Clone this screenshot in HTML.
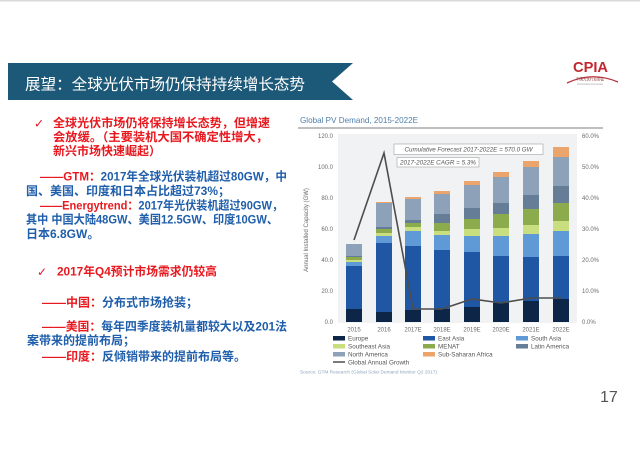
<!DOCTYPE html>
<html>
<head>
<meta charset="utf-8">
<style>
  html,body{margin:0;padding:0;background:#fff;}
  body{width:640px;height:453px;overflow:hidden;}
  svg{display:block;}
  .cjk{font-family:"Liberation Sans","Noto Sans CJK SC","DejaVu Sans",sans-serif;}
  .ax{font-family:"Liberation Sans",sans-serif;font-size:6px;fill:#6a6a6a;}
  .lg{font-family:"Liberation Sans",sans-serif;font-size:6.3px;fill:#555;}
</style>
</head>
<body>
<svg width="640" height="453" viewBox="0 0 640 453" xmlns="http://www.w3.org/2000/svg">
  <rect x="0" y="0" width="640" height="453" fill="#ffffff"/>
  <rect x="0" y="0" width="640" height="1.5" fill="#d9d9d9"/>

  <!-- Banner -->
  <polygon points="8,63 353,63 332,81.5 353,100 8,100" fill="#1c5877"/>
  <text x="25" y="89.5" class="cjk" font-size="15.5" fill="#ffffff" textLength="280" lengthAdjust="spacingAndGlyphs">展望：全球光伏市场仍保持持续增长态势</text>

  <!-- Logo -->
  <text x="573" y="72" font-family="Liberation Sans, sans-serif" font-weight="bold" font-size="15" fill="#c3282e" textLength="35" lengthAdjust="spacingAndGlyphs">CPIA</text>
  <path d="M567,83 Q592,71 618,82" stroke="#b8343a" stroke-width="1.3" fill="none"/>
  <text x="576" y="80.5" class="cjk" font-size="4" fill="#8b3030" textLength="28" lengthAdjust="spacingAndGlyphs">中国光伏行业协会</text>
  <text x="577" y="85" font-family="Liberation Sans, sans-serif" font-size="2.5" fill="#999" textLength="26" lengthAdjust="spacingAndGlyphs">China Photovoltaic Industry Association</text>

  <!-- Left text block -->
  <g class="cjk" font-weight="bold" font-size="12">
    <text x="34" y="127.5" fill="#e0191f" font-family="DejaVu Sans, sans-serif" font-size="12">✓</text>
    <text x="53" y="127" fill="#e8181f" textLength="217" lengthAdjust="spacingAndGlyphs">全球光伏市场仍将保持增长态势，但增速</text>
    <text x="53" y="141" fill="#e8181f" textLength="215" lengthAdjust="spacingAndGlyphs">会放缓。（主要装机大国不确定性增大，</text>
    <text x="53" y="155" fill="#e8181f">新兴市场快速崛起）</text>

    <text x="40" y="180.5" textLength="247" lengthAdjust="spacingAndGlyphs"><tspan fill="#e8181f">——GTM：</tspan><tspan fill="#1f5eab">2017年全球光伏装机超过80GW，中</tspan></text>
    <text x="26" y="195" fill="#1f5eab">国、美国、印度和日本占比超过73%；</text>
    <text x="40" y="209.5" textLength="243" lengthAdjust="spacingAndGlyphs"><tspan fill="#e8181f">——Energytrend：</tspan><tspan fill="#1f5eab">2017年光伏装机超过90GW，</tspan></text>
    <text x="26" y="223.5" fill="#1f5eab" textLength="252" lengthAdjust="spacingAndGlyphs">其中 中国大陆48GW、美国12.5GW、印度10GW、</text>
    <text x="26" y="238" fill="#1f5eab">日本6.8GW。</text>

    <text x="37" y="276" fill="#e0191f" font-family="DejaVu Sans, sans-serif" font-size="12">✓</text>
    <text x="57" y="275.5" fill="#e8181f" textLength="160" lengthAdjust="spacingAndGlyphs">2017年Q4预计市场需求仍较高</text>

    <text x="42" y="306.5"><tspan fill="#e8181f">——中国：</tspan><tspan fill="#1f5eab">分布式市场抢装；</tspan></text>
    <text x="42" y="330.5" textLength="245" lengthAdjust="spacingAndGlyphs"><tspan fill="#e8181f">——美国：</tspan><tspan fill="#1f5eab">每年四季度装机量都较大以及201法</tspan></text>
    <text x="27" y="344.5" fill="#1f5eab">案带来的提前布局；</text>
    <text x="42" y="360.5"><tspan fill="#e8181f">——印度：</tspan><tspan fill="#1f5eab">反倾销带来的提前布局等。</tspan></text>
  </g>

  <!-- Chart title -->
  <text x="300" y="123" font-family="Liberation Sans, sans-serif" font-size="8.5" fill="#4f7fa8" textLength="118" lengthAdjust="spacingAndGlyphs">Global PV Demand, 2015-2022E</text>
  <line x1="298" y1="128" x2="603" y2="128" stroke="#555" stroke-width="0.8"/>

  <!-- Plot background -->
  <rect x="338" y="134" width="239" height="189" fill="#f0f2f4"/>

  <!-- Left axis labels -->
  <g class="ax" text-anchor="end">
    <text x="333" y="138">120.0</text>
    <text x="333" y="169">100.0</text>
    <text x="333" y="200">80.0</text>
    <text x="333" y="231">60.0</text>
    <text x="333" y="262">40.0</text>
    <text x="333" y="293">20.0</text>
    <text x="333" y="324">0.0</text>
  </g>
  <text transform="translate(308,230) rotate(-90)" class="ax" text-anchor="middle" font-size="5.5">Annual Installed Capacity (GW)</text>

  <!-- Right axis labels -->
  <g class="ax">
    <text x="582" y="138">60.0%</text>
    <text x="582" y="169">50.0%</text>
    <text x="582" y="200">40.0%</text>
    <text x="582" y="231">30.0%</text>
    <text x="582" y="262">20.0%</text>
    <text x="582" y="293">10.0%</text>
    <text x="582" y="324">0.0%</text>
  </g>

  <!-- Bars -->
  <g>
    <rect x="346" y="309" width="16" height="13" fill="#0d2647"/>
    <rect x="346" y="266" width="16" height="43" fill="#1f57a4"/>
    <rect x="346" y="262" width="16" height="4" fill="#5f9ad6"/>
    <rect x="346" y="260" width="16" height="2" fill="#c9de7e"/>
    <rect x="346" y="257" width="16" height="3" fill="#8cab4c"/>
    <rect x="346" y="256" width="16" height="1" fill="#657d96"/>
    <rect x="346" y="244" width="16" height="12" fill="#8da2b8"/>
  </g>
  <g>
    <rect x="376" y="312" width="16" height="10" fill="#0d2647"/>
    <rect x="376" y="243" width="16" height="69" fill="#1f57a4"/>
    <rect x="376" y="236" width="16" height="7" fill="#5f9ad6"/>
    <rect x="376" y="233" width="16" height="3" fill="#c9de7e"/>
    <rect x="376" y="229" width="16" height="4" fill="#8cab4c"/>
    <rect x="376" y="227" width="16" height="2" fill="#657d96"/>
    <rect x="376" y="203" width="16" height="24" fill="#8da2b8"/>
    <rect x="376" y="202" width="16" height="1" fill="#eba46b"/>
  </g>
  <g>
    <rect x="405" y="310" width="16" height="12" fill="#0d2647"/>
    <rect x="405" y="246" width="16" height="64" fill="#1f57a4"/>
    <rect x="405" y="231" width="16" height="15" fill="#5f9ad6"/>
    <rect x="405" y="227" width="16" height="4" fill="#c9de7e"/>
    <rect x="405" y="223" width="16" height="4" fill="#8cab4c"/>
    <rect x="405" y="220" width="16" height="3" fill="#657d96"/>
    <rect x="405" y="199" width="16" height="21" fill="#8da2b8"/>
    <rect x="405" y="197" width="16" height="2" fill="#eba46b"/>
  </g>
  <g>
    <rect x="434" y="309" width="16" height="13" fill="#0d2647"/>
    <rect x="434" y="250" width="16" height="59" fill="#1f57a4"/>
    <rect x="434" y="235" width="16" height="15" fill="#5f9ad6"/>
    <rect x="434" y="231" width="16" height="4" fill="#c9de7e"/>
    <rect x="434" y="223" width="16" height="8" fill="#8cab4c"/>
    <rect x="434" y="214" width="16" height="9" fill="#657d96"/>
    <rect x="434" y="194" width="16" height="20" fill="#8da2b8"/>
    <rect x="434" y="191" width="16" height="3" fill="#eba46b"/>
  </g>
  <g>
    <rect x="464" y="307" width="16" height="15" fill="#0d2647"/>
    <rect x="464" y="252" width="16" height="55" fill="#1f57a4"/>
    <rect x="464" y="236" width="16" height="16" fill="#5f9ad6"/>
    <rect x="464" y="229" width="16" height="7" fill="#c9de7e"/>
    <rect x="464" y="219" width="16" height="10" fill="#8cab4c"/>
    <rect x="464" y="208" width="16" height="11" fill="#657d96"/>
    <rect x="464" y="185" width="16" height="23" fill="#8da2b8"/>
    <rect x="464" y="181" width="16" height="4" fill="#eba46b"/>
  </g>
  <g>
    <rect x="493" y="303" width="16" height="19" fill="#0d2647"/>
    <rect x="493" y="256" width="16" height="47" fill="#1f57a4"/>
    <rect x="493" y="236" width="16" height="20" fill="#5f9ad6"/>
    <rect x="493" y="228" width="16" height="8" fill="#c9de7e"/>
    <rect x="493" y="214" width="16" height="14" fill="#8cab4c"/>
    <rect x="493" y="203" width="16" height="11" fill="#657d96"/>
    <rect x="493" y="177" width="16" height="26" fill="#8da2b8"/>
    <rect x="493" y="172" width="16" height="5" fill="#eba46b"/>
  </g>
  <g>
    <rect x="523" y="301" width="16" height="21" fill="#0d2647"/>
    <rect x="523" y="257" width="16" height="44" fill="#1f57a4"/>
    <rect x="523" y="234" width="16" height="23" fill="#5f9ad6"/>
    <rect x="523" y="225" width="16" height="9" fill="#c9de7e"/>
    <rect x="523" y="209" width="16" height="16" fill="#8cab4c"/>
    <rect x="523" y="195" width="16" height="14" fill="#657d96"/>
    <rect x="523" y="167" width="16" height="28" fill="#8da2b8"/>
    <rect x="523" y="161" width="16" height="6" fill="#eba46b"/>
  </g>
  <g>
    <rect x="553" y="299" width="16" height="23" fill="#0d2647"/>
    <rect x="553" y="256" width="16" height="43" fill="#1f57a4"/>
    <rect x="553" y="231" width="16" height="25" fill="#5f9ad6"/>
    <rect x="553" y="221" width="16" height="10" fill="#c9de7e"/>
    <rect x="553" y="203" width="16" height="18" fill="#8cab4c"/>
    <rect x="553" y="186" width="16" height="17" fill="#657d96"/>
    <rect x="553" y="157" width="16" height="29" fill="#8da2b8"/>
    <rect x="553" y="147" width="16" height="10" fill="#eba46b"/>
  </g>

  <!-- Growth line -->
  <polyline points="354,240 384,153 413,309 442,309 472,299 501,303 531,298 561,298" fill="none" stroke="#4d4d4d" stroke-width="1.6" stroke-linejoin="miter"/>

  <!-- Annotation boxes -->
  <rect x="394" y="144" width="149" height="10.5" fill="#ffffff" stroke="#a0a0a0" stroke-width="0.6"/>
  <text x="468.5" y="151.5" text-anchor="middle" font-family="Liberation Sans, sans-serif" font-style="italic" font-size="6" fill="#555" textLength="128" lengthAdjust="spacingAndGlyphs">Cumulative Forecast 2017-2022E = 570.0 GW</text>
  <rect x="397" y="157.5" width="82" height="9.5" fill="#ffffff" stroke="#a0a0a0" stroke-width="0.6"/>
  <text x="438" y="164.5" text-anchor="middle" font-family="Liberation Sans, sans-serif" font-style="italic" font-size="6" fill="#555" textLength="76" lengthAdjust="spacingAndGlyphs">2017-2022E CAGR = 5.3%</text>

  <!-- X labels -->
  <g class="ax" text-anchor="middle">
    <text x="354" y="331.5">2015</text>
    <text x="384" y="331.5">2016</text>
    <text x="413" y="331.5">2017E</text>
    <text x="442" y="331.5">2018E</text>
    <text x="472" y="331.5">2019E</text>
    <text x="501" y="331.5">2020E</text>
    <text x="531" y="331.5">2021E</text>
    <text x="561" y="331.5">2022E</text>
  </g>

  <!-- Legend -->
  <g>
    <rect x="333" y="336" width="12" height="4.5" fill="#0d2647"/>
    <text x="348" y="340.3" class="lg">Europe</text>
    <rect x="423" y="336" width="12" height="4.5" fill="#1f57a4"/>
    <text x="438" y="340.3" class="lg">East Asia</text>
    <rect x="516" y="336" width="12" height="4.5" fill="#5f9ad6"/>
    <text x="531" y="340.3" class="lg">South Asia</text>

    <rect x="333" y="344" width="12" height="4.5" fill="#c9de7e"/>
    <text x="348" y="348.3" class="lg">Southeast Asia</text>
    <rect x="423" y="344" width="12" height="4.5" fill="#8cab4c"/>
    <text x="438" y="348.3" class="lg">MENAT</text>
    <rect x="516" y="344" width="12" height="4.5" fill="#657d96"/>
    <text x="531" y="348.3" class="lg">Latin America</text>

    <rect x="333" y="352" width="12" height="4.5" fill="#8da2b8"/>
    <text x="348" y="356.3" class="lg">North America</text>
    <rect x="423" y="352" width="12" height="4.5" fill="#eba46b"/>
    <text x="438" y="356.3" class="lg">Sub-Saharan Africa</text>

    <line x1="333" y1="362" x2="345" y2="362" stroke="#4d4d4d" stroke-width="1.5"/>
    <text x="348" y="364.3" class="lg">Global Annual Growth</text>
  </g>

  <!-- Source -->
  <text x="300" y="373.5" font-family="Liberation Sans, sans-serif" font-size="4.3" fill="#8ea6c0" textLength="137" lengthAdjust="spacingAndGlyphs">Source: GTM Research (Global Solar Demand Monitor Q2 2017)</text>

  <!-- Page number -->
  <text x="600" y="402" font-family="Liberation Sans, sans-serif" font-size="16" fill="#555">17</text>
</svg>
</body>
</html>
